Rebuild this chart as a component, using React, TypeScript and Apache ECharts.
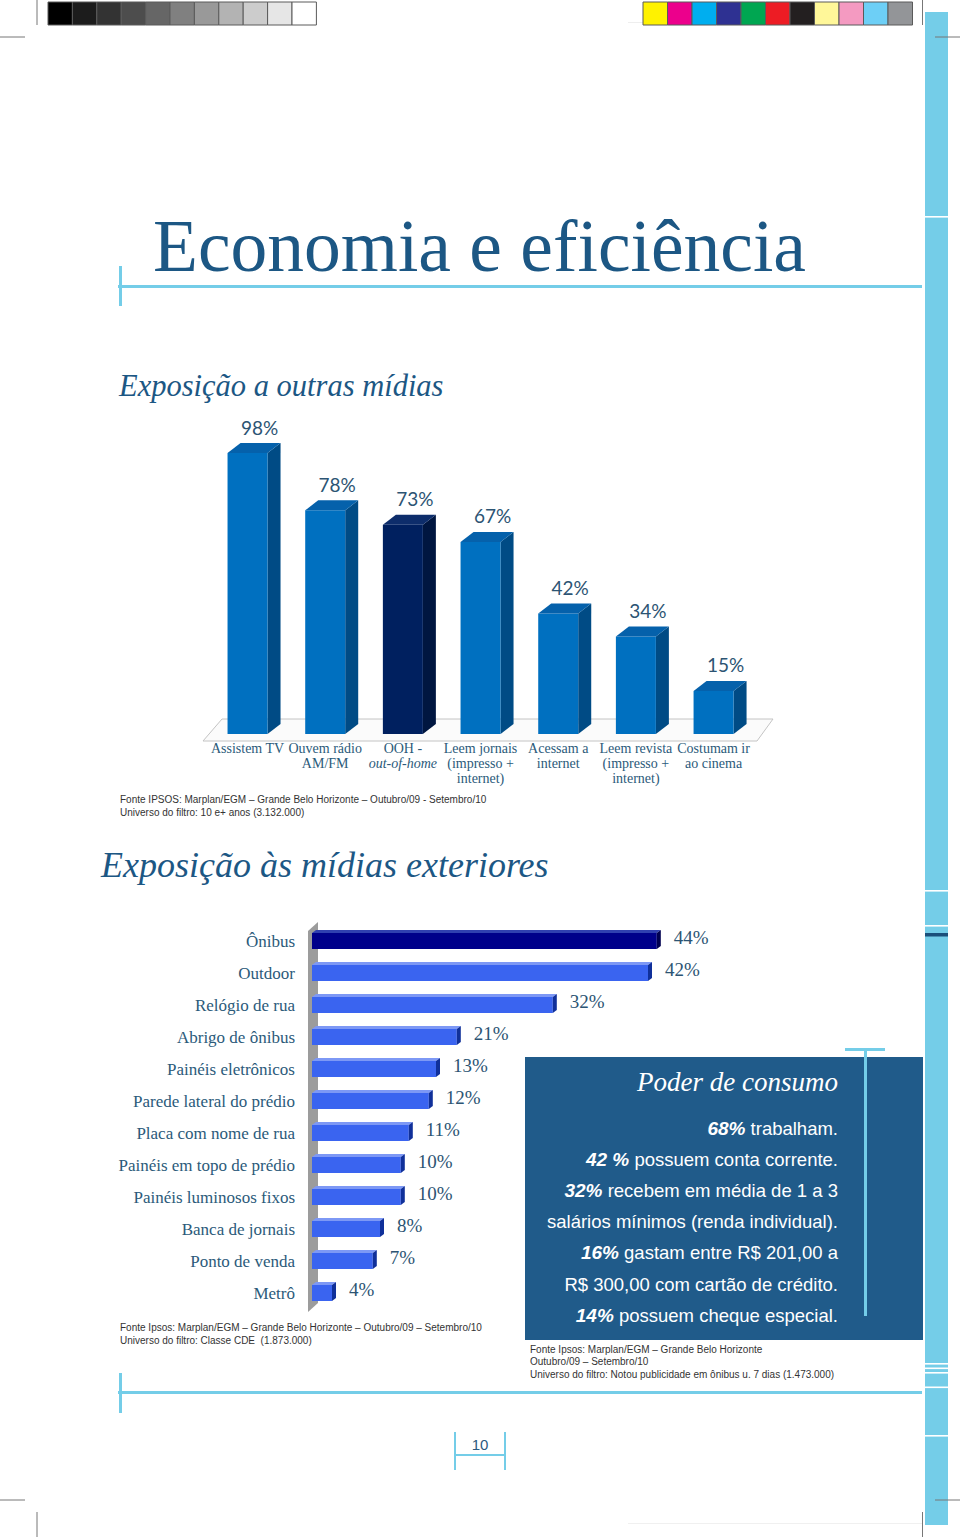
import React, { useEffect, useRef } from "react";
import * as echarts from "echarts";

// ---------- DATA ----------
const mediaCategories = [
  "Assistem TV",
  "Ouvem rádio\nAM/FM",
  "OOH -\nout-of-home",
  "Leem jornais\n(impresso +\ninternet)",
  "Acessam a\ninternet",
  "Leem revista\n(impresso +\ninternet)",
  "Costumam ir\nao cinema",
];
const mediaValues = [98, 78, 73, 67, 42, 34, 15];
const mediaHighlight = "OOH -\nout-of-home";

const outdoorCategories = [
  "Ônibus",
  "Outdoor",
  "Relógio de rua",
  "Abrigo de ônibus",
  "Painéis eletrônicos",
  "Parede lateral do prédio",
  "Placa com nome de rua",
  "Painéis em topo de prédio",
  "Painéis luminosos fixos",
  "Banca de jornais",
  "Ponto de venda",
  "Metrô",
];
// printed percentages
const outdoorLabels = ["44%", "42%", "32%", "21%", "13%", "12%", "11%", "10%", "10%", "8%", "7%", "4%"];
// bar lengths as drawn in the picture (same % scale)
const outdoorBarValues = [43.1, 42.0, 30.1, 18.1, 15.5, 14.6, 12.1, 11.1, 11.1, 8.5, 7.6, 2.5];
const outdoorHighlight = "Ônibus";

const consumoTitle = "Poder de consumo";
const consumoLines: [string, string][] = [
  ["68%", " trabalham."],
  ["42 %", " possuem conta corrente."],
  ["32%", " recebem em média de 1 a 3"],
  ["", "salários mínimos (renda individual)."],
  ["16%", " gastam entre R$ 201,00 a"],
  ["", "R$ 300,00 com cartão de crédito."],
  ["14%", " possuem cheque especial."],
];

const pageTitle = "Economia e eficiência";
const chart1Title = "Exposição a outras mídias";
const chart2Title = "Exposição às mídias exteriores";
const chart1Notes = [
  "Fonte IPSOS: Marplan/EGM – Grande Belo Horizonte – Outubro/09 - Setembro/10",
  "Universo do filtro: 10 e+ anos (3.132.000)",
];
const chart2Notes = [
  "Fonte Ipsos: Marplan/EGM – Grande Belo Horizonte – Outubro/09 – Setembro/10",
  "Universo do filtro: Classe CDE  (1.873.000)",
];
const boxNotes = [
  "Fonte Ipsos: Marplan/EGM – Grande Belo Horizonte",
  "Outubro/09 – Setembro/10",
  "Universo do filtro: Notou publicidade em ônibus u. 7 dias (1.473.000)",
];
const pageNumber = "10";

const grayPatches = ["#000000", "#1c1c1c", "#333333", "#4d4d4d", "#666666", "#808080", "#999999", "#b3b3b3", "#cccccc", "#e6e6e6", "#ffffff"];
const colorPatches = ["#fff200", "#ec008c", "#00aeef", "#2e3192", "#00a651", "#ed1c24", "#231f20", "#fff799", "#f49ac1", "#6dcff6", "#939598"];

// ---------- STYLE ----------
const LB = "#74cde8";
const TITLE = "#1c5784";
const TXT = "#2b5a7a";
const SERIF = "Liberation Serif";
const SANS = "Liberation Sans";

function buildOption() {
  const g: any[] = [];
  const rect = (x: number, y: number, w: number, h: number, fill: string, z = 0, stroke?: string) =>
    g.push({ type: "rect", z, silent: true, shape: { x, y, width: w, height: h }, style: { fill, stroke: stroke || null, lineWidth: stroke ? 1 : 0 } });
  const line = (x1: number, y1: number, x2: number, y2: number, stroke: string, w = 1, z = 0) =>
    g.push({ type: "line", z, silent: true, shape: { x1, y1, x2, y2 }, style: { stroke, lineWidth: w } });
  const text = (x: number, y: number, t: string, st: any) =>
    g.push({ type: "text", z: 20, silent: true, x, y, style: { text: t, verticalAlign: "middle", align: "left", ...st } });

  // print marks: gray and colour strips
  grayPatches.forEach((c, i) => rect(48 + i * 24.4, 2, 24.4, 23, c, 1, "#5a5a5a"));
  colorPatches.forEach((c, i) => rect(643 + i * 24.5, 2, 24.5, 23, c, 1, "#5a5a5a"));
  // crop marks
  line(37, 0, 37, 25, "#777");
  line(0, 37, 25, 37, "#777");
  line(922.5, 0, 922.5, 25, "#777");
  line(935, 37, 960, 37, "#777", 1, 5);
  line(0, 1500, 25, 1500, "#777");
  line(37, 1512, 37, 1537, "#777");
  line(935, 1500, 960, 1500, "#777", 1, 5);
  line(922.5, 1512, 922.5, 1537, "#777");
  line(628, 22.5, 643, 22.5, "#eeeeee");
  line(628, 1523.5, 922, 1523.5, "#f0f0f0");

  // right stripe
  rect(925, 12, 23, 1513, LB, 2);
  [216, 890, 925, 1363, 1367.5, 1372, 1386.5, 1435].forEach((y) => rect(925, y, 23, 1.6, "#ffffff", 3));
  rect(925, 933, 23, 3.5, "#1a4f7a", 3);

  // title rules
  rect(118, 285, 804, 3, LB, 1);
  rect(119, 266, 3, 40, LB, 1);
  rect(118, 1391, 804, 3, LB, 1);
  rect(119, 1373, 3, 40, LB, 1);

  // page number
  line(455, 1432, 455, 1470, LB, 2);
  line(505, 1432, 505, 1470, LB, 2);
  line(455, 1455, 505, 1455, LB, 2);
  text(480, 1444, pageNumber, { align: "center", fontFamily: SANS, fontSize: 15, fill: "#2a5a80" });

  // titles
  text(153, 246, pageTitle, { fontFamily: SERIF, fontSize: 73.5, fill: TITLE });
  text(119, 386, chart1Title, { fontFamily: SERIF, fontStyle: "italic", fontSize: 30.5, fill: TITLE });
  text(101, 865, chart2Title, { fontFamily: SERIF, fontStyle: "italic", fontSize: 36, fill: TITLE });

  // chart 1 floor
  g.push({
    type: "polygon", z: 0, silent: true,
    shape: { points: [[203, 741], [222, 719], [773, 719], [757, 741]] },
    style: { fill: "#fbfbfb", stroke: "#c4c4c4", lineWidth: 1 },
  });
  // chart 2 wall
  g.push({
    type: "polygon", z: 0, silent: true,
    shape: { points: [[308, 931], [318, 922], [318, 1303], [308, 1312]] },
    style: { fill: "#9c9c9c" },
  });

  // notes
  chart1Notes.forEach((t, i) => text(120, 799 + i * 13, t, { fontFamily: SANS, fontSize: 10, fill: "#333" }));
  chart2Notes.forEach((t, i) => text(120, 1327 + i * 13, t, { fontFamily: SANS, fontSize: 10, fill: "#333" }));
  boxNotes.forEach((t, i) => text(530, 1349 + i * 12.5, t, { fontFamily: SANS, fontSize: 10, fill: "#333" }));

  // box
  rect(525, 1057, 398, 283, "#205b8a", 4);
  rect(845, 1048, 40, 3, LB, 5);
  rect(864, 1048, 3, 268, LB, 5);
  text(838, 1082, consumoTitle, { align: "right", fontFamily: SERIF, fontStyle: "italic", fontSize: 27, fill: "#ffffff" });
  consumoLines.forEach(([b, t], i) => {
    const s = b ? `{b|${b}}{t|${t}}` : `{t|${t}}`;
    text(838, 1128 + i * 31.2, s, {
      align: "right",
      fill: "#ffffff",
      fontFamily: SANS,
      fontSize: 18.5,
      rich: {
        b: { fontFamily: SANS, fontSize: 19, fontStyle: "italic", fontWeight: "bold", fill: "#ffffff", color: "#ffffff" },
        t: { fontFamily: SANS, fontSize: 18.5, fill: "#ffffff", color: "#ffffff" },
      },
    });
  });

  const richCat = {
    n: { fontFamily: SERIF, fontSize: 14, color: TXT, lineHeight: 15 },
    i: { fontFamily: SERIF, fontSize: 14, color: TXT, lineHeight: 15, fontStyle: "italic" },
  };

  return {
    animation: false,
    backgroundColor: "#ffffff",
    grid: [
      { left: 208.7, top: 447.3, width: 543.7, height: 286.7 },
      { left: 312, top: 925, width: 400, height: 384 },
    ],
    xAxis: [
      {
        type: "category", gridIndex: 0, data: mediaCategories,
        axisLine: { show: false }, axisTick: { show: false },
        axisLabel: {
          interval: 0, margin: 7, fontFamily: SERIF, fontSize: 14, color: TXT, lineHeight: 15,
          formatter: (v: string) => {
            const parts = v.split("\n");
            return parts.map((p) => (p === "out-of-home" ? `{i|${p}}` : `{n|${p}}`)).join("\n");
          },
          rich: richCat,
        },
      },
      { type: "value", gridIndex: 1, min: 0, max: 50, show: false },
    ],
    yAxis: [
      { type: "value", gridIndex: 0, min: 0, max: 100, show: false },
      {
        type: "category", gridIndex: 1, data: outdoorCategories, inverse: true,
        axisLine: { show: false }, axisTick: { show: false },
        axisLabel: { margin: 17, fontFamily: SERIF, fontSize: 17, color: TXT },
      },
    ],
    series: [
      {
        type: "custom", xAxisIndex: 0, yAxisIndex: 0, z: 5,
        encode: { x: 0, y: 1 },
        data: mediaValues.map((v, i) => [i, v]),
        renderItem: (params: any, api: any) => {
          const i = api.value(0);
          const v = api.value(1);
          const top = api.coord([i, v]);
          const base = api.coord([i, 0]);
          const cx = top[0], yT = top[1], yB = base[1];
          const hw = 20, dx = 13, dy = 10;
          const dark = mediaCategories[i] === mediaHighlight;
          const cF = dark ? "#00205f" : "#0070c0";
          const cS = dark ? "#001640" : "#004b85";
          const cT = dark ? "#0d2d6b" : "#0561ab";
          return {
            type: "group",
            children: [
              { type: "polygon", shape: { points: [[cx + hw, yT], [cx + hw + dx, yT - dy], [cx + hw + dx, yB - dy], [cx + hw, yB]] }, style: { fill: cS } },
              { type: "rect", shape: { x: cx - hw, y: yT, width: 2 * hw, height: yB - yT }, style: { fill: cF } },
              { type: "polygon", shape: { points: [[cx - hw, yT], [cx - hw + dx, yT - dy], [cx + hw + dx, yT - dy], [cx + hw, yT]] }, style: { fill: cT } },
              {
                type: "text", x: cx + 12, y: yT - dy - 16,
                style: { text: `${mediaValues[i]}%`, align: "center", verticalAlign: "middle", fontFamily: "Lato", fontSize: 19, fill: "#2c5473" },
              },
            ],
          };
        },
      },
      {
        type: "custom", xAxisIndex: 1, yAxisIndex: 1, z: 5,
        encode: { x: 0, y: 1 },
        data: outdoorBarValues.map((v, i) => [v, i]),
        renderItem: (params: any, api: any) => {
          const v = api.value(0);
          const i = api.value(1);
          const end = api.coord([v, i]);
          const start = api.coord([0, i]);
          const x0 = start[0], x1 = end[0], cy = end[1];
          const h = 8, dx = 4, dy = 3;
          const dark = outdoorCategories[i] === outdoorHighlight;
          const cF = dark ? "#00008a" : "#3a64f0";
          const cS = dark ? "#000050" : "#10309a";
          const cT = dark ? "#3040b0" : "#7d98f5";
          return {
            type: "group",
            children: [
              { type: "polygon", shape: { points: [[x0, cy - h], [x0 + dx, cy - h - dy], [x1 + dx, cy - h - dy], [x1, cy - h]] }, style: { fill: cT } },
              { type: "rect", shape: { x: x0, y: cy - h, width: x1 - x0, height: 2 * h }, style: { fill: cF } },
              { type: "polygon", shape: { points: [[x1, cy - h], [x1 + dx, cy - h - dy], [x1 + dx, cy + h - dy], [x1, cy + h]] }, style: { fill: cS } },
              {
                type: "text", x: x1 + dx + 13, y: cy - 4,
                style: { text: outdoorLabels[i], align: "left", verticalAlign: "middle", fontFamily: SERIF, fontSize: 19, fill: "#2c5473" },
              },
            ],
          };
        },
      },
    ],
    graphic: g,
  };
}

export default function App() {
  const ref = useRef<HTMLDivElement>(null);
  useEffect(() => {
    const chart = echarts.init(ref.current!, null, { renderer: "svg" });
    chart.setOption(buildOption() as any);
    return () => chart.dispose();
  }, []);
  return <div ref={ref} style={{ position: "absolute", left: 0, top: 0, width: 960, height: 1537 }} />;
}
